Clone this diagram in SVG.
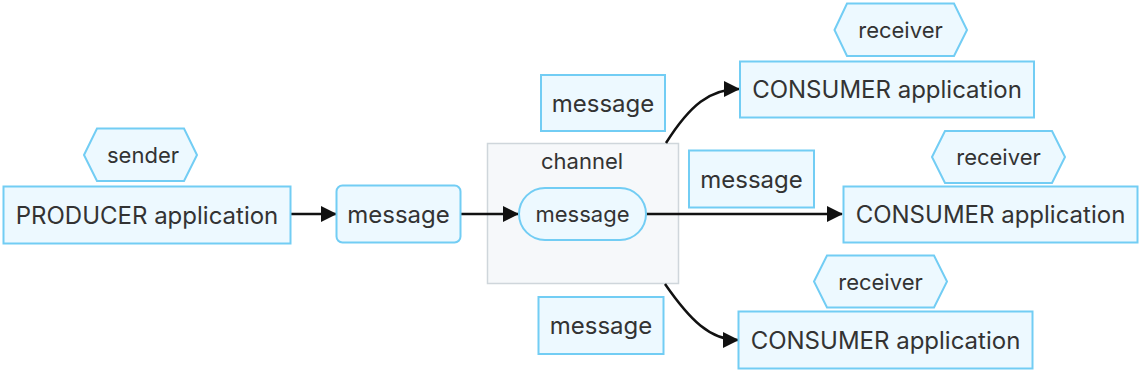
<svg xmlns="http://www.w3.org/2000/svg" width="1142" height="374" viewBox="0 0 1142 374">
<defs>
<marker id="ah" viewBox="0 0 16 16" refX="15" refY="8" markerWidth="16" markerHeight="16" markerUnits="userSpaceOnUse" orient="auto">
<path d="M0,0 L16,8 L0,16 Z" fill="#111"/>
</marker>
<style>
.n{fill:#edf9ff;stroke:#72cdf4;stroke-width:2}
.t{font-family:Inter,"Liberation Sans",sans-serif;fill:#333;text-anchor:middle;dominant-baseline:central}
.b{font-size:24px}
.s{font-size:22px}
.e{fill:none;stroke:#111;stroke-width:2.5;marker-end:url(#ah)}
</style>
</defs>
<rect width="1142" height="374" fill="#fff"/>
<g id="channel">
<rect x="487.5" y="143.5" width="191" height="140" fill="#f6f8fa" stroke="#cfd6db" stroke-width="1.5"/>
<text class="t s" x="582" y="161">channel</text>
</g>
<g id="connectors">
<path class="e" d="M290,214 L336,214"/>
<path class="e" d="M461,214 L518,214"/>
<path class="e" d="M646,214 L842,214"/>
<path class="e" d="M666,143 C690,105 710,89 739,89"/>
<path class="e" d="M665,284 C690,320 710,340 738,340"/>
</g>
<g id="producer">
<rect class="n" x="3.5" y="186.5" width="287" height="57"/>
<text class="t b" x="147" y="215">PRODUCER application</text>
</g>
<g id="sender">
<polygon class="n" points="84,155 97,128.5 184,128.5 197,155 184,181 97,181"/>
<text class="t s" x="143" y="155">sender</text>
</g>
<g id="message-in">
<rect class="n" x="336.5" y="185.5" width="124" height="57" rx="6"/>
<text class="t b" x="398.5" y="214">message</text>
</g>
<g id="message-channel">
<rect class="n" x="519" y="188" width="127" height="52" rx="26"/>
<text class="t s" x="582.5" y="214">message</text>
</g>
<g id="message-top">
<rect class="n" x="541" y="75" width="124" height="56"/>
<text class="t b" x="603" y="103">message</text>
</g>
<g id="message-mid">
<rect class="n" x="689" y="150.5" width="125" height="57"/>
<text class="t b" x="751.5" y="179">message</text>
</g>
<g id="message-bottom">
<rect class="n" x="538.5" y="297" width="125" height="57"/>
<text class="t b" x="601" y="325.5">message</text>
</g>
<g id="consumer-top">
<rect class="n" x="740" y="61.5" width="294" height="56"/>
<text class="t b" x="887" y="89.5">CONSUMER application</text>
</g>
<g id="receiver-top">
<polygon class="n" points="834.5,30 847,3.5 954,3.5 967,30 954,56 847,56"/>
<text class="t s" x="900.5" y="30">receiver</text>
</g>
<g id="consumer-mid">
<rect class="n" x="843.5" y="186.5" width="294" height="56"/>
<text class="t b" x="990.5" y="214.5">CONSUMER application</text>
</g>
<g id="receiver-mid">
<polygon class="n" points="932,157 945,131 1052,131 1065,157 1052,183 945,183"/>
<text class="t s" x="998.5" y="157">receiver</text>
</g>
<g id="consumer-bottom">
<rect class="n" x="738.5" y="311.5" width="294" height="57"/>
<text class="t b" x="885.5" y="340">CONSUMER application</text>
</g>
<g id="receiver-bottom">
<polygon class="n" points="814,281.5 827,255.5 934,255.5 947,281.5 934,307.5 827,307.5"/>
<text class="t s" x="880.5" y="281.5">receiver</text>
</g>
</svg>
